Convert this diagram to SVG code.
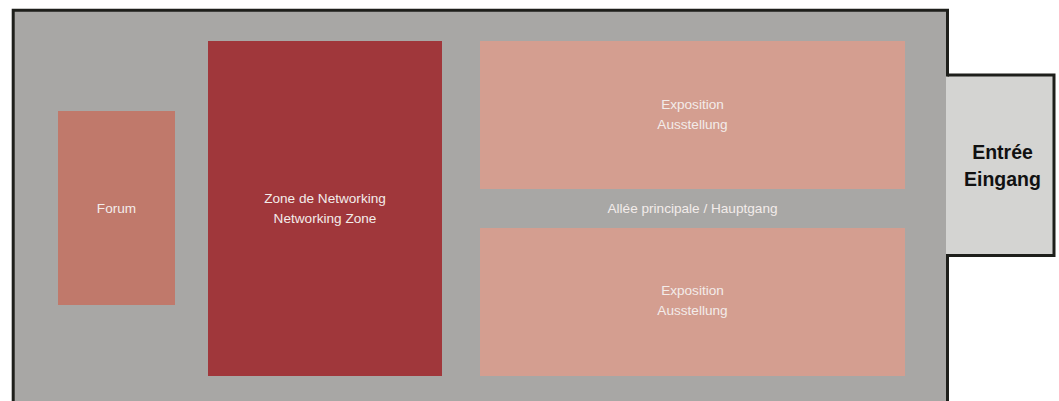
<svg xmlns="http://www.w3.org/2000/svg" width="1059" height="401" viewBox="0 0 1059 401">
<style>
.lbl{font-family:"Liberation Sans",Arial,sans-serif;font-size:13.6px;fill:#f3ecea;text-anchor:middle}
.ent{font-family:"Liberation Sans",Arial,sans-serif;font-size:19.5px;font-weight:bold;fill:#111;text-anchor:middle}
.wall{fill:none;stroke:#1e1f1b;stroke-width:3}
</style>
<rect width="1059" height="401" fill="#ffffff"/>
<g id="hall">
<rect x="13" y="10" width="934" height="400" fill="#a8a7a5"/>
</g>
<g id="entrance">
<rect x="946" y="75" width="108" height="180" fill="#d4d4d2"/>
<path class="wall" d="M947.5 75 L1054 75 L1054 255.5 L947.5 255.5"/>
<text class="ent" x="1002.5" y="159">Entrée</text>
<text class="ent" x="1002.5" y="186">Eingang</text>
</g>
<path class="wall" d="M13.2 410 L13.2 10.2 L947.5 10.2 L947.5 76.5 M947.5 254 L947.5 410"/>
<g id="forum">
<rect x="58" y="111" width="117" height="194" fill="#c0796b"/>
<text class="lbl" x="116.5" y="213">Forum</text>
</g>
<g id="networking">
<rect x="208" y="41" width="234" height="335" fill="#a0373b"/>
<text class="lbl" x="325" y="203">Zone de Networking</text>
<text class="lbl" x="325" y="223">Networking Zone</text>
</g>
<g id="expo-top">
<rect x="480" y="41" width="425" height="148" fill="#d49e90"/>
<text class="lbl" x="692.5" y="109">Exposition</text>
<text class="lbl" x="692.5" y="129">Ausstellung</text>
</g>
<g id="expo-bottom">
<rect x="480" y="228" width="425" height="148" fill="#d49e90"/>
<text class="lbl" x="692.5" y="295">Exposition</text>
<text class="lbl" x="692.5" y="315">Ausstellung</text>
</g>
<g id="aisle">
<text class="lbl" x="692.5" y="213">Allée principale / Hauptgang</text>
</g>
<g id="connectors"/>
</svg>
